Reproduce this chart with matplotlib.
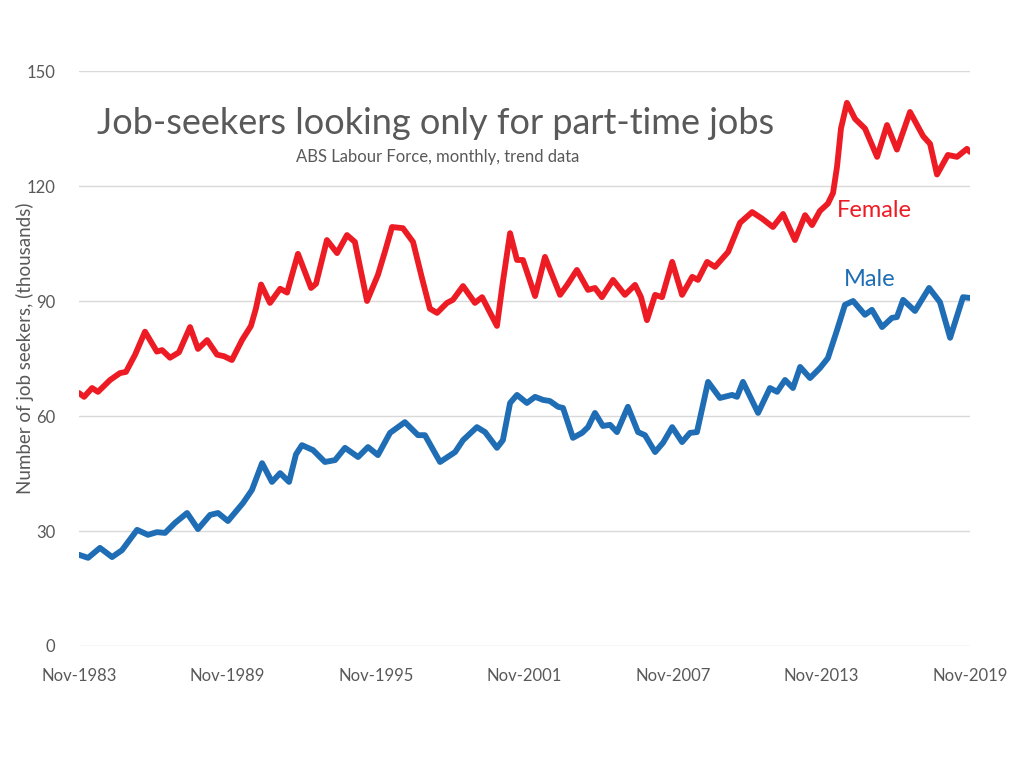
import matplotlib
matplotlib.use("Agg")
import matplotlib.pyplot as plt

plt.rcParams['font.family'] = ['Lato', 'DejaVu Sans']

# decimal-year positions and values (thousands)
female_t = [1983.83, 1984.04, 1984.36, 1984.60, 1985.09, 1985.49, 1985.73, 1986.10, 1986.50, 1986.98,
            1987.19, 1987.51, 1987.87, 1988.32, 1988.64, 1989.01, 1989.41, 1989.69, 1990.01, 1990.42,
            1990.78, 1990.98, 1991.19, 1991.55, 1991.96, 1992.24, 1992.68, 1993.21, 1993.41, 1993.85,
            1994.26, 1994.66, 1994.98, 1995.47, 1995.91, 1996.20, 1996.48, 1996.92, 1997.33, 1997.69,
            1998.01, 1998.30, 1998.70, 1998.94, 1999.35, 1999.83, 2000.12, 2000.44, 2000.72, 2000.96,
            2001.25, 2001.53, 2001.77, 2002.26, 2002.66, 2003.27, 2003.59, 2003.95, 2004.40, 2004.68,
            2004.96, 2005.41, 2005.89, 2006.30, 2006.54, 2006.78, 2007.11, 2007.39, 2007.80, 2008.20,
            2008.61, 2008.84, 2009.21, 2009.53, 2010.06, 2010.54, 2011.03, 2011.43, 2011.87, 2012.28,
            2012.76, 2013.17, 2013.45, 2013.77, 2014.09, 2014.30, 2014.46, 2014.62, 2014.86, 2015.19,
            2015.59, 2016.08, 2016.48, 2016.88, 2017.41, 2017.94, 2018.22, 2018.50, 2018.94, 2019.31,
            2019.71, 2019.83]
female_v = [66.0, 65.0, 67.3, 66.3, 69.4, 71.2, 71.5, 76.0, 82.0, 76.8,
            77.2, 75.2, 76.6, 83.2, 77.5, 79.8, 76.0, 75.6, 74.6, 79.8,
            83.5, 88.0, 94.3, 89.5, 93.2, 92.2, 102.3, 93.4, 94.5, 105.9,
            102.5, 107.2, 105.4, 90.0, 96.8, 103.0, 109.3, 109.0, 105.4, 96.0,
            88.0, 86.9, 89.5, 90.3, 93.9, 89.5, 91.0, 87.0, 83.5, 95.0,
            107.7, 100.7, 100.7, 91.3, 101.5, 91.6, 94.5, 98.1, 92.9, 93.4,
            91.0, 95.5, 91.6, 94.2, 91.0, 85.0, 91.6, 91.0, 100.2, 91.6,
            96.3, 95.5, 100.2, 98.9, 102.8, 110.4, 113.2, 111.5, 109.3, 112.7,
            105.9, 112.4, 109.8, 113.5, 115.4, 118.2, 125.0, 135.0, 141.7, 137.5,
            135.0, 127.6, 135.9, 129.5, 139.3, 133.0, 131.0, 123.0, 128.1, 127.6,
            129.7, 128.9]

male_t = [1983.83, 1984.20, 1984.68, 1985.17, 1985.57, 1986.18, 1986.62, 1986.98, 1987.31, 1987.71,
          1988.20, 1988.64, 1989.13, 1989.45, 1989.85, 1990.46, 1990.82, 1991.23, 1991.63, 1991.96,
          1992.32, 1992.60, 1992.84, 1993.29, 1993.77, 1994.18, 1994.58, 1995.11, 1995.51, 1995.91,
          1996.40, 1997.00, 1997.53, 1997.81, 1998.42, 1999.03, 1999.35, 1999.91, 2000.24, 2000.72,
          2000.96, 2001.25, 2001.53, 2001.93, 2002.26, 2002.58, 2002.86, 2003.19, 2003.39, 2003.79,
          2004.16, 2004.40, 2004.68, 2005.00, 2005.29, 2005.57, 2006.01, 2006.42, 2006.70, 2007.11,
          2007.43, 2007.80, 2008.20, 2008.52, 2008.80, 2009.25, 2009.73, 2010.22, 2010.42, 2010.66,
          2011.27, 2011.75, 2012.04, 2012.36, 2012.68, 2012.97, 2013.37, 2013.77, 2014.09, 2014.46,
          2014.78, 2015.11, 2015.59, 2015.87, 2016.28, 2016.68, 2016.88, 2017.13, 2017.61, 2018.18,
          2018.62, 2019.03, 2019.55, 2019.83]
male_v = [23.8, 23.0, 25.6, 23.2, 25.0, 30.3, 29.0, 29.7, 29.5, 32.1,
          34.7, 30.5, 34.2, 34.7, 32.6, 37.3, 40.7, 47.7, 42.8, 45.1,
          42.8, 50.0, 52.4, 51.1, 48.0, 48.5, 51.7, 49.3, 51.9, 49.8,
          55.6, 58.4, 55.0, 55.0, 48.0, 50.6, 53.7, 57.1, 55.8, 51.7,
          53.7, 63.4, 65.5, 63.4, 65.0, 64.2, 63.9, 62.4, 62.1, 54.3,
          55.6, 57.1, 60.8, 57.4, 57.7, 55.8, 62.4, 55.8, 55.0, 50.6,
          53.0, 57.1, 53.2, 55.6, 55.8, 68.9, 64.7, 65.5, 65.0, 68.9,
          60.8, 67.3, 66.3, 69.4, 67.3, 72.8, 69.9, 72.5, 75.1, 82.4,
          89.0, 90.0, 86.4, 87.7, 83.2, 85.6, 85.8, 90.3, 87.4, 93.4,
          89.7, 80.4, 91.0, 90.8]

x_ticks = [1983.833, 1989.833, 1995.833, 2001.833, 2007.833, 2013.833, 2019.833]
x_tick_labels = ["Nov-1983", "Nov-1989", "Nov-1995", "Nov-2001", "Nov-2007", "Nov-2013", "Nov-2019"]
y_ticks = [0, 30, 60, 90, 120, 150]

RED = "#ED1C24"
BLUE = "#1F6DB4"
GRAY = "#595959"

fig = plt.figure(figsize=(10.24, 7.69), dpi=100)
ax = fig.add_axes([79/1024, 1 - 646/769, (970 - 79)/1024, (646 - 71)/769])

ax.plot(female_t, female_v, color=RED, lw=4.2, solid_joinstyle='round', solid_capstyle='round', zorder=3)
ax.plot(male_t, male_v, color=BLUE, lw=4.2, solid_joinstyle='round', solid_capstyle='round', zorder=3)

ax.set_xlim(1983.833, 2019.833)
ax.set_ylim(0, 150)
ax.set_yticks(y_ticks)
ax.set_xticks(x_ticks)
ax.set_xticklabels(x_tick_labels)
ax.grid(axis='y', color='#D9D9D9', lw=1.0)
ax.set_axisbelow(True)
for s in ax.spines.values():
    s.set_visible(False)
ax.tick_params(axis='both', length=0, labelsize=12, colors=GRAY)
ax.tick_params(axis='y', pad=17)
ax.tick_params(axis='x', pad=16)

fig.text(25/1024, 1 - 348/769, "Number of job seekers, (thousands)", rotation=90,
         fontsize=13.5, color=GRAY, ha='center', va='center')

fig.text(97/1024, 1 - 123/769, "Job-seekers looking only for part-time jobs",
         fontsize=26, color=GRAY, ha='left', va='center')
fig.text(296/1024, 1 - 157/769, "ABS Labour Force, monthly, trend data",
         fontsize=12, color=GRAY, ha='left', va='center')

ax.text(2014.45, 113.5, "Female", color=RED, fontsize=17, ha='left', va='center')
ax.text(2014.73, 95.5, "Male", color=BLUE, fontsize=17, ha='left', va='center')

fig.savefig("out.png", dpi=100, facecolor='white')
